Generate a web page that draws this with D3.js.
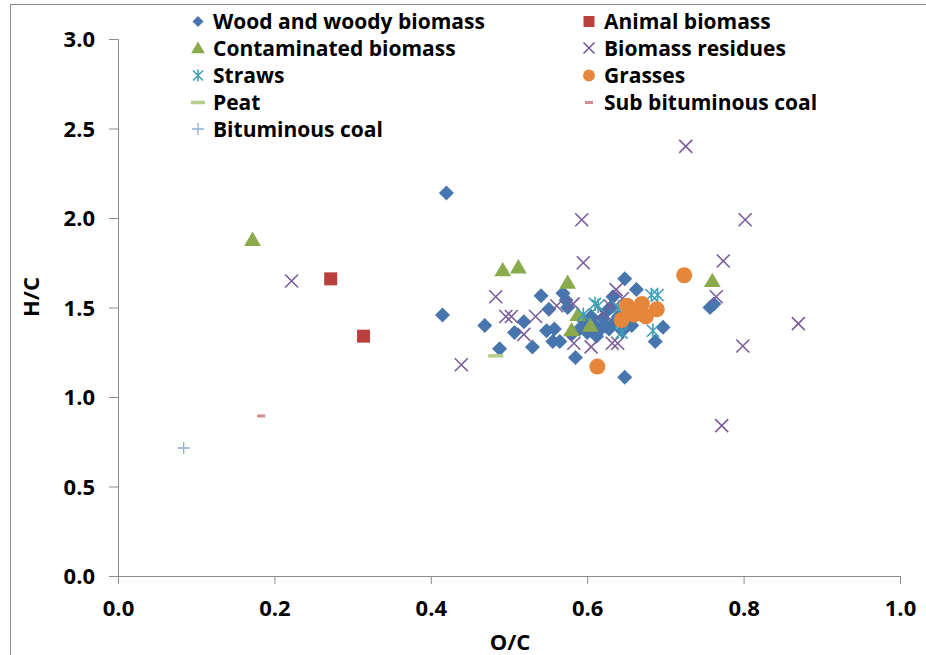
<!DOCTYPE html>
<html>
<head>
<meta charset="utf-8">
<title>H/C vs O/C</title>
<script src="https://d3js.org/d3.v7.min.js"></script>
<style>
  body { margin: 0; background: #fff; }
  text { font-family: "Open Sans", Lato, sans-serif; font-weight: bold; fill: #000; }
</style>
</head>
<body>
<div id="chart"></div>
<script>
// series: [O/C, H/C]
var wood = [
  [0.420, 2.14], [0.415, 1.458], [0.469, 1.40], [0.488, 1.27], [0.507, 1.36], [0.519, 1.42],
  [0.530, 1.28], [0.541, 1.566], [0.551, 1.49], [0.548, 1.37], [0.558, 1.38], [0.556, 1.31],
  [0.565, 1.31], [0.569, 1.58], [0.573, 1.54], [0.585, 1.22], [0.648, 1.66], [0.663, 1.60],
  [0.697, 1.39], [0.687, 1.31], [0.648, 1.11], [0.757, 1.50], [0.762, 1.52], [0.657, 1.40],
  [0.622, 1.40], [0.633, 1.56], [0.590, 1.38], [0.600, 1.42], [0.610, 1.40], [0.615, 1.37],
  [0.620, 1.44], [0.628, 1.38], [0.635, 1.42], [0.640, 1.45], [0.595, 1.43], [0.605, 1.45],
  [0.580, 1.35], [0.625, 1.48], [0.612, 1.34], [0.630, 1.50], [0.600, 1.36], [0.645, 1.37],
  [0.650, 1.43], [0.575, 1.50]
];
var animal = [[0.272, 1.66], [0.314, 1.34]];
var contaminated = [[0.172, 1.88], [0.492, 1.71], [0.512, 1.726], [0.575, 1.64], [0.588, 1.46],
  [0.580, 1.375], [0.604, 1.40], [0.760, 1.65]];
var residues = [
  [0.222, 1.648], [0.439, 1.18], [0.483, 1.56], [0.496, 1.45], [0.503, 1.45], [0.519, 1.35],
  [0.534, 1.45], [0.561, 1.51], [0.582, 1.52], [0.595, 1.75], [0.583, 1.30], [0.605, 1.28],
  [0.593, 1.99], [0.726, 2.40], [0.802, 1.99], [0.870, 1.41], [0.799, 1.285], [0.774, 1.76],
  [0.765, 1.56], [0.772, 0.84], [0.632, 1.30], [0.639, 1.30], [0.637, 1.60], [0.629, 1.51],
  [0.620, 1.47], [0.645, 1.55]
];
var straws = [[0.595, 1.46], [0.614, 1.51], [0.610, 1.52], [0.644, 1.36], [0.682, 1.57],
  [0.690, 1.57], [0.684, 1.37], [0.640, 1.50]];
var grasses = [[0.651, 1.51], [0.670, 1.52], [0.689, 1.49], [0.644, 1.43], [0.660, 1.46],
  [0.675, 1.45], [0.724, 1.68], [0.613, 1.17]];
var peat = [[0.483, 1.23]];
var subBituminous = [[0.183, 0.894]];
var bituminous = [[0.084, 0.715]];

var xTicks = [0.0, 0.2, 0.4, 0.6, 0.8, 1.0];
var yTicks = [0.0, 0.5, 1.0, 1.5, 2.0, 2.5, 3.0];

var W = 926, H = 655;
var margin = {top: 39, right: 26, bottom: 79, left: 118};
var width = W - margin.left - margin.right,
    height = H - margin.top - margin.bottom;

var svg = d3.select("#chart").append("svg")
  .attr("width", W)
  .attr("height", H);

// outer frame (only left and top visible)
svg.append("rect")
  .attr("x", 10.5).attr("y", 4.5)
  .attr("width", W + 20).attr("height", H + 20)
  .style("fill", "none").style("stroke", "#8c8c8c").style("stroke-width", 1);

var g = svg.append("g")
  .attr("transform", "translate(" + margin.left + "," + margin.top + ")");

var x = d3.scaleLinear().domain([0, 1]).range([0, width]);
var y = d3.scaleLinear().domain([0, 3]).range([height, 0]);

var xAxis = g.append("g")
  .attr("transform", "translate(0," + height + ")")
  .call(d3.axisBottom(x).tickValues(xTicks).tickFormat(d3.format(".1f")).tickSize(8).tickPadding(16));
var yAxis = g.append("g")
  .call(d3.axisLeft(y).tickValues(yTicks).tickFormat(d3.format(".1f")).tickSize(9).tickPadding(14));

[xAxis, yAxis].forEach(function(a) {
  a.select(".domain").style("stroke", "#8c8c8c");
  a.selectAll(".tick line").style("stroke", "#8c8c8c");
  a.selectAll(".tick text")
    .style("font-size", "22px")
    .style("font-family", "'Open Sans', sans-serif")
    .style("font-weight", "bold");
});
yAxis.selectAll(".tick text").attr("dy", "0.36em");

// axis titles
g.append("text")
  .attr("x", 510 - margin.left)
  .attr("y", 650 - margin.top)
  .attr("text-anchor", "middle")
  .style("font-size", "22px")
  .text("O/C");
g.append("text")
  .attr("transform", "rotate(-90)")
  .attr("x", -(297 - margin.top))
  .attr("y", 39 - margin.left)
  .attr("text-anchor", "middle")
  .style("font-size", "22px")
  .text("H/C");

// marker drawing
function diamond(s) { return "M0," + (-s) + "L" + s + ",0L0," + s + "L" + (-s) + ",0Z"; }
function square(s) { return "M" + (-s) + "," + (-s) + "h" + (2 * s) + "v" + (2 * s) + "h" + (-2 * s) + "Z"; }
function triangle(s) { return "M0," + (-s) + "L" + (s * 1.05) + "," + (s * 0.8) + "L" + (-s * 1.05) + "," + (s * 0.8) + "Z"; }
function cross(s) { return "M" + (-s) + "," + (-s) + "L" + s + "," + s + "M" + (-s) + "," + s + "L" + s + "," + (-s); }
function star(s) { return cross(s) + "M0," + (-s * 1.2) + "L0," + (s * 1.2); }
function plus(s) { return "M" + (-s) + ",0L" + s + ",0M0," + (-s) + "L0," + s; }
function dash(s) { return "M" + (-s) + ",0L" + s + ",0"; }

var series = [
  {name: "Wood and woody biomass", data: wood, path: diamond(7.5), fill: "#4775AD", stroke: "none", sw: 0, legend: diamond(5.5)},
  {name: "Animal biomass", data: animal, path: square(6.5), fill: "#B8403D", stroke: "none", sw: 0, legend: square(5.5)},
  {name: "Contaminated biomass", data: contaminated, path: triangle(8), fill: "#8BAA4B", stroke: "none", sw: 0, legend: triangle(6.5)},
  {name: "Biomass residues", data: residues, path: cross(6.5), fill: "none", stroke: "#7A5C9C", sw: 1.6, legend: cross(5.5)},
  {name: "Straws", data: straws, path: star(6), fill: "none", stroke: "#3EA0B8", sw: 1.6, legend: star(5)},
  {name: "Grasses", data: grasses, path: d3.symbol().type(d3.symbolCircle).size(201)(), fill: "#E5863A", stroke: "none", sw: 0, legend: d3.symbol().type(d3.symbolCircle).size(110)()},
  {name: "Peat", data: peat, path: dash(7.5), fill: "none", stroke: "#B5CD88", sw: 3.5, legend: dash(7)},
  {name: "Sub bituminous coal", data: subBituminous, path: dash(4), fill: "none", stroke: "#D48E8C", sw: 3, legend: dash(4)},
  {name: "Bituminous coal", data: bituminous, path: plus(6), fill: "none", stroke: "#8FADD5", sw: 1.3, legend: plus(6)}
];

// draw in Excel order so later series sit on top
series.forEach(function(s) {
  g.append("g").selectAll("path")
    .data(s.data)
    .enter().append("path")
    .attr("transform", function(d) { return "translate(" + x(d[0]) + "," + y(d[1]) + ")"; })
    .attr("d", s.path)
    .style("fill", s.fill)
    .style("stroke", s.stroke)
    .style("stroke-width", s.sw);
});

// legend: two columns
var legendRows = [21.5, 48, 75.5, 102.5, 129];
var legendCols = [198, 589];
var legend = svg.append("g").attr("class", "legend");
series.forEach(function(s, i) {
  var cx = legendCols[i % 2], cy = legendRows[Math.floor(i / 2)];
  var item = legend.append("g").attr("transform", "translate(" + cx + "," + cy + ")");
  item.append("path")
    .attr("d", s.legend)
    .style("fill", s.fill)
    .style("stroke", s.stroke)
    .style("stroke-width", s.sw);
  item.append("text")
    .attr("x", 15)
    .attr("dy", "0.36em")
    .style("font-size", "21px")
    .text(s.name);
});
</script>
</body>
</html>
